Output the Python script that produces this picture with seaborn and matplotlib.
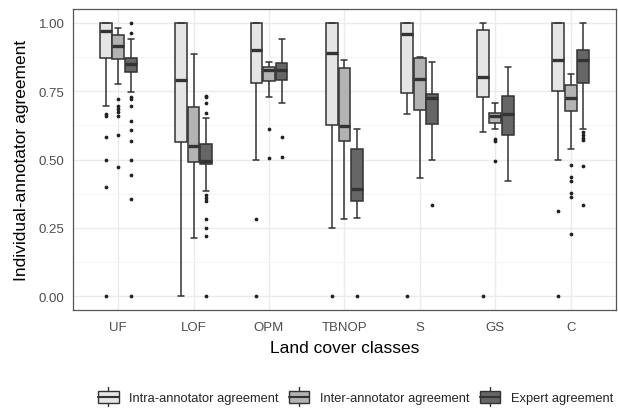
import pandas as pd
import matplotlib
matplotlib.use("Agg")
import matplotlib.pyplot as plt
from matplotlib.legend_handler import HandlerPatch
from matplotlib.patches import Rectangle
from matplotlib.lines import Line2D
import seaborn as sns

classes = ["UF", "LOF", "OPM", "TBNOP", "S", "GS", "C"]
agreements = ["Intra-annotator agreement", "Inter-annotator agreement", "Expert agreement"]

# box stats: (whisker low, q1, median, q3, whisker high)
intra_stats = [(0.694, 0.872, 0.969, 1.00, 1.00), (0.00, 0.565, 0.79, 1.00, 1.00),
               (0.50, 0.779, 0.899, 1.00, 1.00), (0.249, 0.625, 0.89, 1.00, 1.00),
               (0.668, 0.742, 0.96, 1.00, 1.00), (0.601, 0.727, 0.803, 0.973, 1.00),
               (0.50, 0.749, 0.864, 1.00, 1.00)]
inter_stats = [(0.775, 0.866, 0.915, 0.954, 0.982), (0.213, 0.49, 0.548, 0.692, 0.885),
               (0.729, 0.787, 0.827, 0.838, 0.856), (0.283, 0.566, 0.622, 0.836, 0.863),
               (0.431, 0.68, 0.793, 0.87, 0.876), (0.611, 0.632, 0.66, 0.669, 0.706),
               (0.54, 0.679, 0.725, 0.773, 0.812)]
expert_stats = [(0.747, 0.82, 0.848, 0.872, 0.942), (0.386, 0.484, 0.493, 0.556, 0.651),
                (0.706, 0.791, 0.827, 0.854, 0.942), (0.286, 0.35, 0.392, 0.537, 0.611),
                (0.50, 0.628, 0.725, 0.74, 0.856), (0.423, 0.589, 0.667, 0.733, 0.838),
                (0.611, 0.781, 0.864, 0.899, 1.00)]

intra_outliers = [[0.668, 0.66, 0.581, 0.498, 0.40, 0.0], [], [0.283, 0.0], [0.0],
                  [0.0], [0.0], [0.311, 0.0]]
inter_outliers = [[0.723, 0.696, 0.685, 0.672, 0.66, 0.589, 0.472], [], [0.61, 0.505], [],
                  [], [0.574, 0.567, 0.493], [0.48, 0.435, 0.423, 0.377, 0.362, 0.228]]
expert_outliers = [[1.0, 0.961, 0.727, 0.72, 0.696, 0.641, 0.607, 0.568, 0.498, 0.445, 0.356, 0.0],
                   [0.733, 0.73, 0.705, 0.67, 0.37, 0.36, 0.35, 0.283, 0.249, 0.222, 0.0],
                   [0.583, 0.51], [0.0], [0.333], [], [0.60, 0.59, 0.58, 0.57, 0.475, 0.333]]

colors = ["#E5E5E5", "#B3B3B3", "#666666"]


def expand(stats, outliers):
    # rebuild a sample whose quartiles / whiskers match the read-off stats
    lo, q1, med, q3, hi = stats
    return list(outliers) + [lo] + [q1] * 50 + [med] * 50 + [q3] * 50 + [hi]


rows = []
for agr, st, outl in zip(agreements,
                         [intra_stats, inter_stats, expert_stats],
                         [intra_outliers, inter_outliers, expert_outliers]):
    for cls, s, o in zip(classes, st, outl):
        for v in expand(s, o):
            rows.append({"cls": cls, "agreement": agr, "value": v})
df = pd.DataFrame(rows)


class BoxKey(HandlerPatch):
    # ggplot-like legend key: box with median line and whisker stubs
    def create_artists(self, legend, orig, xd, yd, w, h, fontsize, trans):
        x0, y0 = -xd, -yd
        box = Rectangle((x0, y0 + h * 0.15), w, h * 0.7, facecolor=orig.get_facecolor(),
                        edgecolor="#333333", lw=1.0, transform=trans)
        med = Line2D([x0, x0 + w], [y0 + h * 0.5] * 2, color="#333333", lw=1.5, transform=trans)
        top = Line2D([x0 + w / 2] * 2, [y0 + h * 0.85, y0 + h * 1.05], color="#333333", lw=1.0, transform=trans)
        bot = Line2D([x0 + w / 2] * 2, [y0 - h * 0.05, y0 + h * 0.15], color="#333333", lw=1.0, transform=trans)
        return [top, bot, box, med]


sns.set_theme(style="white")
plt.rcParams["font.family"] = ["Liberation Sans", "DejaVu Sans"]

fig = plt.figure(figsize=(6.18, 4.10), dpi=100)
ax = fig.add_axes([0.118, 0.2415, 0.8786, 0.734])

sns.boxplot(data=df, x="cls", y="value", hue="agreement", order=classes,
            hue_order=agreements, palette=colors, width=0.5, gap=0.06,
            linecolor="#333333", linewidth=1.1, fliersize=1.7,
            flierprops=dict(marker="o", markerfacecolor="#222222", markeredgecolor="#222222"),
            medianprops=dict(linewidth=2.4, color="#333333"),
            whis=1.5, ax=ax)

ax.set_ylim(-0.05, 1.05)
ax.set_xlim(-0.6, 6.6)
ax.set_yticks([0, 0.25, 0.5, 0.75, 1.0])
ax.set_yticklabels(["0.00", "0.25", "0.50", "0.75", "1.00"])
ax.set_yticks([0.125, 0.375, 0.625, 0.875], minor=True)
ax.grid(True, which="major", color="#EBEBEB", linewidth=1.0)
ax.grid(True, which="minor", axis="y", color="#F4F4F4", linewidth=0.6)
ax.set_axisbelow(True)
ax.tick_params(axis="both", which="major", length=3, width=0.8, color="#333333",
               labelsize=9.5, labelcolor="#4D4D4D", pad=3)
ax.tick_params(axis="x", which="major", pad=5)
ax.tick_params(axis="y", which="minor", length=0)
for sp in ax.spines.values():
    sp.set_color("#555555")
    sp.set_linewidth(0.9)

ax.set_xlabel("Land cover classes", fontsize=12.5, color="black", labelpad=5)
ax.set_ylabel("Individual-annotator agreement", fontsize=12.5, color="black", labelpad=7)

ax.get_legend().remove()
handles = [Rectangle((0, 0), 1, 1, facecolor=c) for c in colors]
fig.legend(handles, agreements, loc="center", bbox_to_anchor=(0.575, 0.03), ncol=3,
           frameon=False, fontsize=9.3, handlelength=1.6, handleheight=1.7,
           handletextpad=0.8, columnspacing=0.8, handler_map={Rectangle: BoxKey()})

fig.savefig("out.png", dpi=100)
